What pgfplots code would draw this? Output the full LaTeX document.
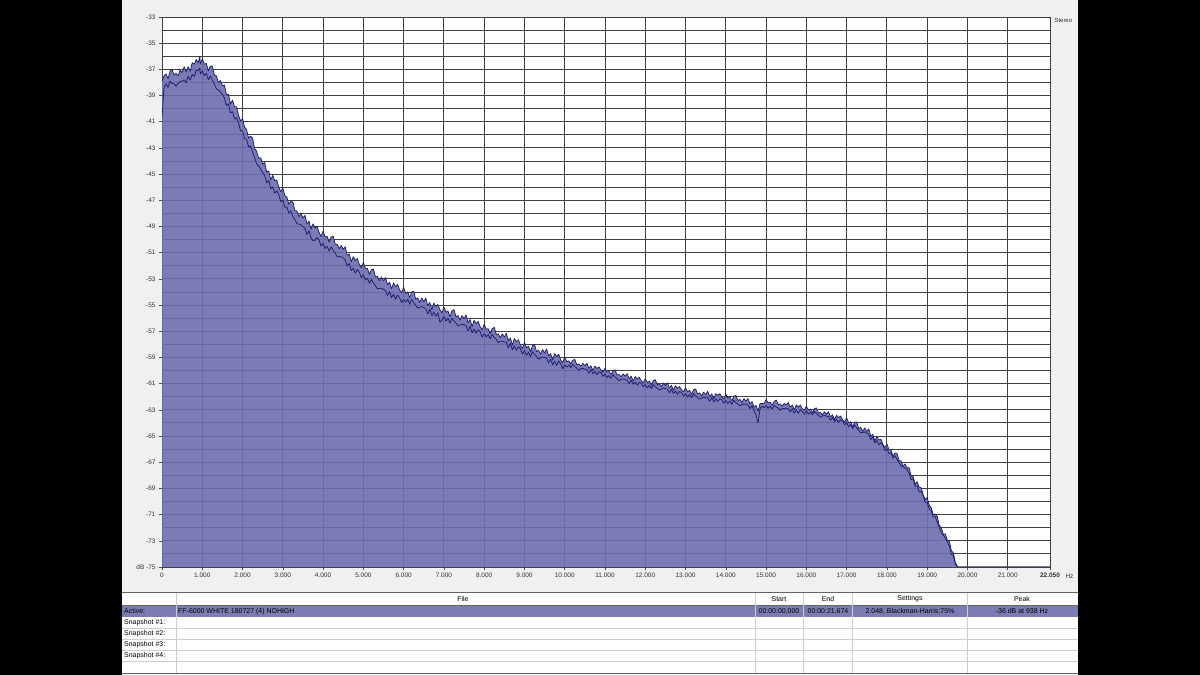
\documentclass[border=0pt]{standalone}
\usepackage{pgfplots}
\pgfplotsset{compat=1.18}
\usepackage{pgfplotstable}
\usepackage{fontspec}
\setmainfont{Liberation Sans}

\definecolor{fillc}{RGB}{109,109,173}
\definecolor{linec}{RGB}{28,28,110}
\definecolor{panel}{RGB}{240,240,240}
\definecolor{rowc}{RGB}{124,124,181}
\definecolor{sepc}{RGB}{205,205,205}

% frequency (Hz), upper channel (dB), lower channel (dB)
\pgfplotstableread{
f U L
0 -37.90 -40.70
50 -37.50 -38.38
100 -37.35 -38.10
150 -37.70 -38.38
200 -37.15 -37.90
250 -37.00 -38.07
300 -37.45 -38.12
350 -37.30 -38.28
400 -37.50 -38.07
450 -37.05 -37.92
500 -37.25 -37.90
550 -36.80 -37.80
600 -37.20 -38.02
650 -36.80 -37.52
700 -37.15 -37.82
750 -36.50 -37.38
800 -36.60 -37.55
850 -36.25 -37.08
900 -36.50 -37.08
940 -36.00 -36.90
950 -36.60 -37.35
1000 -36.20 -37.13
1050 -36.60 -37.48
1100 -36.55 -37.30
1150 -37.10 -37.78
1200 -36.75 -37.50
1250 -36.75 -37.82
1300 -37.45 -38.12
1350 -37.50 -38.48
1400 -38.00 -38.57
1450 -37.85 -38.72
1500 -38.25 -38.90
1550 -38.20 -39.20
1600 -38.95 -39.77
1650 -38.90 -39.62
1700 -39.65 -40.32
1750 -39.35 -40.23
1800 -39.85 -40.80
1850 -39.85 -40.68
1900 -40.50 -41.08
1950 -40.95 -41.70
2000 -40.75 -41.68
2050 -41.40 -42.28
2100 -41.60 -42.35
2150 -42.25 -42.93
2200 -42.10 -42.85
2250 -42.25 -43.32
2300 -43.05 -43.72
2350 -43.25 -44.23
2400 -43.80 -44.37
2450 -43.75 -44.62
2500 -44.25 -44.90
2550 -44.10 -45.10
2600 -44.85 -45.67
2650 -44.75 -45.47
2700 -45.45 -46.12
2750 -45.10 -45.98
2800 -45.50 -46.45
2850 -45.45 -46.28
2900 -46.00 -46.58
2950 -46.35 -47.10
3000 -46.05 -46.98
3050 -46.65 -47.53
3100 -46.75 -47.50
3150 -47.30 -47.98
3200 -47.05 -47.80
3250 -47.15 -48.22
3300 -47.80 -48.47
3350 -47.80 -48.78
3400 -48.25 -48.82
3450 -48.00 -48.87
3500 -48.35 -49.00
3550 -48.15 -49.15
3600 -48.80 -49.62
3650 -48.60 -49.32
3700 -49.20 -49.87
3750 -48.80 -50.10
3800 -49.10 -50.05
3850 -49.00 -49.83
3900 -49.45 -50.03
3950 -49.75 -50.50
4000 -49.35 -50.28
4050 -49.80 -50.68
4100 -49.75 -50.50
4150 -50.20 -50.88
4200 -49.80 -50.55
4250 -49.75 -50.82
4300 -50.35 -51.02
4350 -50.35 -51.33
4400 -50.70 -51.27
4450 -50.45 -51.32
4500 -50.75 -51.40
4550 -50.55 -51.55
4600 -51.20 -52.02
4650 -51.10 -51.82
4700 -51.70 -52.37
4750 -51.30 -52.18
4800 -51.60 -52.55
4850 -51.45 -52.28
4900 -51.90 -52.48
4950 -52.15 -52.90
5000 -51.75 -52.68
5050 -52.20 -53.08
5100 -52.20 -52.95
5150 -52.65 -53.33
5200 -52.30 -53.05
5250 -52.25 -53.32
5300 -52.85 -53.52
5350 -52.80 -53.78
5400 -53.15 -53.72
5450 -52.85 -53.72
5500 -53.15 -53.80
5550 -52.90 -53.90
5600 -53.45 -54.27
5650 -53.25 -53.97
5700 -53.75 -54.42
5750 -53.30 -54.18
5800 -53.60 -54.55
5850 -53.40 -54.23
5900 -53.85 -54.43
5950 -54.05 -54.80
6000 -53.65 -54.58
6050 -54.10 -54.78
6100 -54.00 -54.55
6150 -54.45 -54.93
6200 -54.00 -54.55
6250 -53.95 -54.82
6300 -54.55 -55.02
6350 -54.45 -55.23
6400 -54.80 -55.17
6450 -54.45 -55.12
6500 -54.75 -55.20
6550 -54.45 -55.25
6600 -55.05 -55.67
6650 -54.80 -55.32
6700 -55.35 -55.82
6750 -54.85 -55.53
6800 -55.10 -55.85
6850 -54.95 -55.58
6900 -55.35 -56.30
6950 -55.60 -56.15
7000 -55.15 -55.88
7050 -55.55 -56.23
7100 -55.45 -56.00
7150 -55.90 -56.38
7200 -55.45 -56.00
7250 -55.35 -56.22
7300 -55.90 -56.37
7350 -55.80 -56.58
7400 -56.15 -56.52
7450 -55.80 -56.47
7500 -56.05 -56.50
7550 -55.75 -56.55
7600 -56.35 -56.97
7650 -56.10 -56.62
7700 -56.65 -57.12
7750 -56.15 -56.83
7800 -56.40 -57.15
7850 -56.25 -56.88
7900 -56.65 -57.03
7950 -56.90 -57.45
8000 -56.45 -57.18
8050 -56.85 -57.43
8100 -56.80 -57.25
8150 -57.20 -57.58
8200 -56.80 -57.25
8250 -56.70 -57.47
8300 -57.25 -57.62
8350 -57.20 -57.88
8400 -57.50 -57.77
8450 -57.20 -57.77
8500 -57.45 -57.80
8550 -57.15 -57.85
8600 -57.75 -58.27
8650 -57.50 -57.92
8700 -58.05 -58.42
8750 -57.55 -58.13
8800 -57.80 -58.45
8850 -57.65 -58.18
8900 -58.05 -58.33
8950 -58.30 -58.75
9000 -57.85 -58.48
9050 -58.25 -58.83
9100 -58.15 -58.60
9150 -58.55 -58.93
9200 -58.10 -58.55
9250 -58.00 -58.77
9300 -58.55 -58.92
9350 -58.45 -59.13
9400 -58.75 -59.02
9450 -58.40 -58.97
9500 -58.65 -59.00
9550 -58.35 -59.05
9600 -58.90 -59.42
9650 -58.70 -59.12
9700 -59.20 -59.57
9750 -58.70 -59.28
9800 -58.95 -59.60
9850 -58.75 -59.28
9900 -59.20 -59.48
9950 -59.40 -59.85
10000 -58.95 -59.58
10050 -59.32 -59.73
10100 -59.26 -59.58
10150 -59.51 -59.78
10200 -59.21 -59.52
10250 -59.15 -59.69
10300 -59.55 -59.81
10350 -59.50 -59.98
10400 -59.68 -59.86
10450 -59.45 -59.84
10500 -59.64 -59.88
10550 -59.44 -59.93
10600 -59.84 -60.20
10650 -59.63 -59.92
10700 -60.00 -60.25
10750 -59.66 -60.07
10800 -59.85 -60.31
10850 -59.72 -60.10
10900 -59.97 -60.17
10950 -60.13 -60.44
11000 -59.82 -60.27
11050 -60.12 -60.53
11100 -60.06 -60.38
11150 -60.31 -60.58
11200 -60.01 -60.32
11250 -59.95 -60.49
11300 -60.35 -60.61
11350 -60.30 -60.78
11400 -60.48 -60.66
11450 -60.25 -60.64
11500 -60.44 -60.68
11550 -60.24 -60.73
11600 -60.64 -61.00
11650 -60.43 -60.72
11700 -60.80 -61.05
11750 -60.46 -60.87
11800 -60.65 -61.11
11850 -60.52 -60.90
11900 -60.77 -60.97
11950 -60.93 -61.24
12000 -60.62 -61.07
12050 -60.92 -61.33
12100 -60.81 -61.13
12150 -61.11 -61.38
12200 -60.76 -61.07
12250 -60.70 -61.24
12300 -61.10 -61.36
12350 -61.00 -61.48
12400 -61.23 -61.41
12450 -60.95 -61.34
12500 -61.14 -61.38
12550 -60.94 -61.43
12600 -61.34 -61.70
12650 -61.13 -61.42
12700 -61.50 -61.75
12750 -61.16 -61.57
12800 -61.35 -61.81
12850 -61.22 -61.60
12900 -61.47 -61.67
12950 -61.63 -61.94
13000 -61.32 -61.77
13050 -61.62 -62.03
13100 -61.51 -61.83
13150 -61.81 -62.08
13200 -61.46 -61.77
13250 -61.40 -61.94
13300 -61.80 -62.06
13350 -61.70 -62.18
13400 -61.93 -62.11
13450 -61.65 -62.04
13500 -61.84 -62.08
13550 -61.59 -62.08
13600 -61.99 -62.35
13650 -61.78 -62.07
13700 -62.15 -62.40
13750 -61.76 -62.17
13800 -61.90 -62.36
13850 -61.77 -62.15
13900 -62.02 -62.22
13950 -62.18 -62.49
14000 -61.82 -62.27
14050 -62.12 -62.53
14100 -62.01 -62.33
14150 -62.31 -62.58
14200 -61.96 -62.27
14250 -61.90 -62.44
14300 -62.30 -62.56
14350 -62.20 -62.68
14400 -62.43 -62.61
14450 -62.15 -62.54
14500 -62.34 -62.58
14550 -62.14 -62.63
14600 -62.54 -62.90
14650 -62.38 -62.67
14700 -62.80 -63.05
14750 -62.66 -63.40
14800 -63.10 -64.00
14850 -62.52 -62.90
14900 -62.52 -62.72
14950 -62.53 -62.84
15000 -62.22 -62.67
15050 -62.47 -62.88
15100 -62.41 -62.73
15150 -62.66 -62.93
15200 -62.36 -62.67
15250 -62.25 -62.79
15300 -62.60 -62.86
15350 -62.55 -63.03
15400 -62.73 -62.91
15450 -62.50 -62.89
15500 -62.64 -62.88
15550 -62.44 -62.93
15600 -62.79 -63.15
15650 -62.63 -62.92
15700 -63.00 -63.25
15750 -62.61 -63.02
15800 -62.80 -63.26
15850 -62.62 -63.00
15900 -62.92 -63.12
15950 -63.03 -63.34
16000 -62.72 -63.07
16050 -63.02 -63.33
16100 -62.96 -63.18
16150 -63.21 -63.38
16200 -62.91 -63.12
16250 -62.85 -63.29
16300 -63.25 -63.41
16350 -63.20 -63.58
16400 -63.38 -63.46
16450 -63.15 -63.44
16500 -63.34 -63.48
16550 -63.14 -63.53
16600 -63.54 -63.80
16650 -63.38 -63.57
16700 -63.75 -63.90
16750 -63.41 -63.72
16800 -63.60 -63.96
16850 -63.47 -63.75
16900 -63.77 -63.87
16950 -63.93 -64.14
17000 -63.62 -63.97
17050 -63.98 -64.29
17100 -63.91 -64.12
17150 -64.29 -64.44
17200 -63.94 -64.15
17250 -63.92 -64.39
17300 -64.42 -64.57
17350 -64.35 -64.74
17400 -64.65 -64.72
17450 -64.38 -64.69
17500 -64.64 -64.77
17550 -64.46 -64.87
17600 -65.01 -65.28
17650 -64.87 -65.06
17700 -65.38 -65.53
17750 -65.04 -65.35
17800 -65.30 -65.67
17850 -65.25 -65.52
17900 -65.63 -65.70
17950 -65.90 -66.11
18000 -65.60 -65.95
18050 -66.03 -66.34
18100 -66.06 -66.27
18150 -66.54 -66.69
18200 -66.29 -66.50
18250 -66.32 -66.79
18300 -66.87 -67.02
18350 -66.90 -67.29
18400 -67.30 -67.37
18450 -67.13 -67.44
18500 -67.44 -67.57
18550 -67.41 -67.82
18600 -68.06 -68.33
18650 -68.07 -68.26
18700 -68.68 -68.83
18750 -68.49 -68.80
18800 -68.90 -69.27
18850 -68.95 -69.22
18900 -69.48 -69.55
18950 -69.85 -70.06
19000 -69.70 -70.05
19050 -70.28 -70.59
19100 -70.46 -70.67
19150 -71.04 -71.19
19200 -70.94 -71.15
19250 -71.12 -71.59
19300 -71.82 -71.97
19350 -72.00 -72.39
19400 -72.50 -72.57
19450 -72.48 -72.79
19500 -72.94 -73.07
19550 -73.01 -73.42
19600 -73.76 -74.03
19650 -73.92 -74.11
19700 -74.68 -74.80
19760 -75.00 -75.00
22050 -75.00 -75.00
}\spec

\begin{document}
\begin{tikzpicture}[x=1bp,y=1bp,font=\fontsize{7}{8}\selectfont]
% page background and window panel (1 unit = 1 px of the screenshot, y up)
\fill[black] (0,0) rectangle (1200,675);
\fill[panel] (122,0) rectangle (1078,675);

\begin{axis}[
  at={(162bp,108bp)}, anchor=south west,
  width=888bp, height=550bp, scale only axis,
  xmin=0, xmax=22050, ymin=-75, ymax=-33,
  scaled x ticks=false, scaled y ticks=false,
  xtick={0,1000,2000,3000,4000,5000,6000,7000,8000,9000,10000,11000,12000,13000,14000,15000,16000,17000,18000,19000,20000,21000,22050},
  xticklabels={0,1.000,2.000,3.000,4.000,5.000,6.000,7.000,8.000,9.000,10.000,11.000,12.000,13.000,14.000,15.000,16.000,17.000,18.000,19.000,20.000,21.000,\textbf{22.050}},
  ytick={-75,-73,...,-33},
  yticklabels={dB -75,-73,-71,-69,-67,-65,-63,-61,-59,-57,-55,-53,-51,-49,-47,-45,-43,-41,-39,-37,-35,-33},
  minor ytick={-74,-72,...,-34},
  grid=both,
  major grid style={black!75, line width=0.9bp},
  minor grid style={black!75, line width=0.9bp},
  axis line style={black!75, line width=0.9bp},
  tick align=outside, xtick pos=bottom, ytick pos=left,
  major tick length=3bp, minor tick length=0bp,
  tick style={black!70, line width=0.6bp},
  ticklabel style={font=\fontsize{6.5}{7}\selectfont, text=black!80},
  xticklabel style={yshift=1bp},
  axis background/.style={fill=white},
]
\addplot[fill=fillc, fill opacity=0.9, draw=none] table[x=f,y=U]{\spec} -- (axis cs:0,-75) -- cycle;
\addplot[linec, line width=0.75bp, line join=round] table[x=f,y=L]{\spec};
\addplot[linec, line width=0.75bp, line join=round] table[x=f,y=U]{\spec};
\end{axis}

\node[anchor=west, font=\fontsize{6.5}{7}\selectfont, text=black!80] at (1062,99) {Hz};
\node[anchor=west, font=\fontsize{6}{7}\selectfont, text=black!80] at (1051,655) {Stereo};

% snapshot table
\fill[white] (122,2) rectangle (1078,82);
\fill[rowc] (122,58) rectangle (1078,69);
\draw[black!60, line width=1bp] (122,82.5) -- (1078,82.5);
\draw[black!60, line width=0.8bp] (122,69.5) -- (1078,69.5);
\foreach \yy in {46.5,35.5,24.5,13.5} \draw[sepc, line width=0.8bp] (122,\yy) -- (1078,\yy);
\draw[black!60, line width=1bp] (122,1.5) -- (1078,1.5);
\foreach \xx in {176,755,803,852,967} \draw[sepc, line width=0.8bp] (\xx,2) -- (\xx,82);

\node[anchor=center] at (463,76) {File};
\node[anchor=center] at (779,76) {Start};
\node[anchor=center] at (828,76) {End};
\node[anchor=center] at (910,76) {Settings};
\node[anchor=center] at (1022,76) {Peak};

\node[anchor=west, inner sep=0pt] at (124,63.5) {Active:};
\node[anchor=west, inner sep=0pt] at (178,63.5) {FF-6000 WHITE 180727 (4) NOHIGH};
\node[anchor=center] at (779,63.5) {00:00:00,000};
\node[anchor=center] at (828,63.5) {00:00:21,674};
\node[anchor=center] at (910,63.5) {2.048, Blackman-Harris;75\%};
\node[anchor=center] at (1022,63.5) {-36 dB at 938 Hz};

\node[anchor=west, inner sep=0pt] at (124,52) {Snapshot \#1:};
\node[anchor=west, inner sep=0pt] at (124,41) {Snapshot \#2:};
\node[anchor=west, inner sep=0pt] at (124,30) {Snapshot \#3:};
\node[anchor=west, inner sep=0pt] at (124,19) {Snapshot \#4:};
\end{tikzpicture}
\end{document}
